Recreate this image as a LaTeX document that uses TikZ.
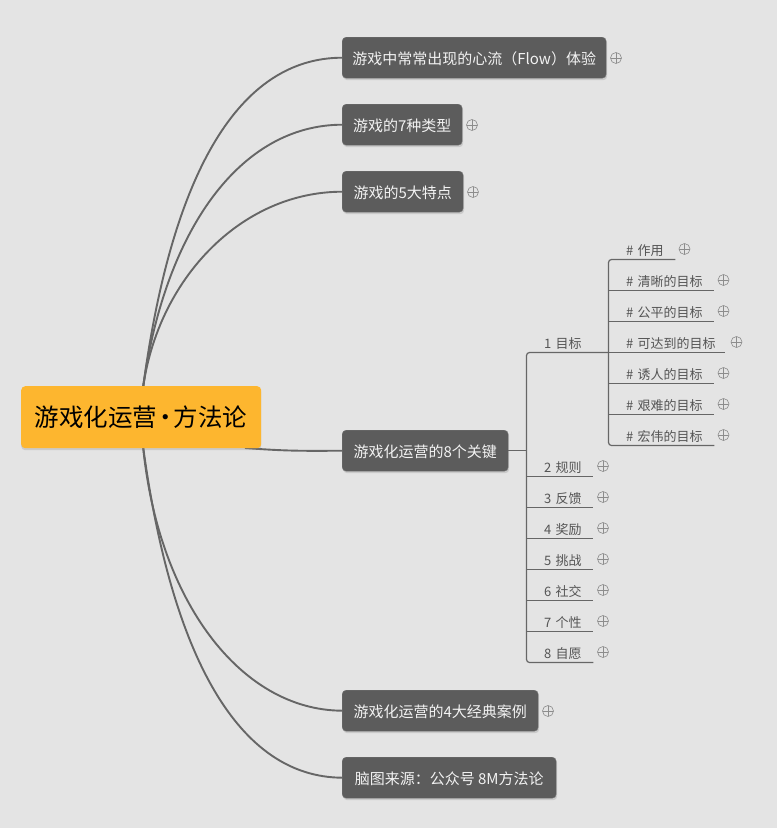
\documentclass[tikz,border=0pt]{standalone}
\usepackage{fontspec}
\setmainfont{Noto Sans CJK SC}
\usepackage{tikz}
\usetikzlibrary{shadows}

\definecolor{pagegrey}{HTML}{E4E4E4}
\definecolor{topicgrey}{HTML}{5C5C5C}
\definecolor{rootorange}{HTML}{FDB62F}
\definecolor{linegrey}{HTML}{666666}
\definecolor{labelgrey}{HTML}{555555}

\tikzset{
    rootbox/.style={draw=none, fill=rootorange, rounded corners=4, anchor=north west,
        minimum width=240pt, minimum height=62pt, inner sep=0pt, text=black,
        font=\fontsize{24.5}{30}\selectfont,
        drop shadow={shadow xshift=0pt, shadow yshift=-2pt, opacity=0.25}},
    topicbox/.style={draw=black!55, fill=topicgrey, rounded corners=4, anchor=north west,
        minimum width=#1, minimum height=41pt, inner sep=0pt, text=white!95!black,
        text height=14pt, text depth=1pt,
        font=\fontsize{15}{18}\selectfont,
        drop shadow={shadow xshift=1pt, shadow yshift=-2pt, opacity=0.25}},
    branchlabel/.style={anchor=south west, inner xsep=0pt, inner ysep=2.5pt, text width=#1,
        align=left, text=labelgrey, font=\fontsize{13}{16}\selectfont,
        execute at begin node=\hspace*{17.5pt}},
    curveline/.style={draw=linegrey, line width=1.9pt},
    branchline/.style={draw=linegrey, line width=1.2pt},
    plusmark/.style={circle, draw=black!45, line width=0.6pt, minimum size=11pt, inner sep=0pt,
        path picture={
            \draw[black!45, line width=0.6pt]
                (path picture bounding box.north) -- (path picture bounding box.south)
                (path picture bounding box.west) -- (path picture bounding box.east);
        }},
}

\begin{document}
\begin{tikzpicture}[x=1pt, y=-1pt]

        \fill[pagegrey] (0,0) rectangle (777,828);
        \useasboundingbox (0,0) rectangle (777,828);

        % main topics
        \node[topicbox=264pt] (flow) at (342,37) {游戏中常常出现的心流（Flow）体验};
        \node[topicbox=120pt] (types) at (342,104) {游戏的7种类型};
        \node[topicbox=121pt] (traits) at (342,171) {游戏的5大特点};
        \node[topicbox=166pt] (keys) at (342,430) {游戏化运营的8个关键};
        \node[topicbox=196pt] (cases) at (342,690) {游戏化运营的4大经典案例};
        \node[topicbox=214pt] (source) at (342,757) {脑图来源：公众号 8M方法论};

        % curves first, root goes on top of them
        \coordinate (roottop) at (143,388);
        \coordinate (rootbottom) at (143,446);
        \coordinate (rootside) at (245,448);

        \draw[curveline] (roottop) .. controls (172,170) and (240,58) .. (flow.west);
        \draw[curveline] (roottop) .. controls (165,230) and (240,125) .. (types.west);
        \draw[curveline] (roottop) .. controls (158,280) and (240,192) .. (traits.west);
        \draw[curveline] (rootside) .. controls (285,451) and (300,451) .. (keys.west);
        \draw[curveline] (rootbottom) .. controls (158,600) and (240,710) .. (cases.west);
        \draw[curveline] (rootbottom) .. controls (172,660) and (240,777) .. (source.west);

        \node[rootbox] (root) at (21,386) {游戏化运营\kern-4pt·\kern-4pt方法论};

        % second level
        \node[branchlabel=82pt] (goal) at (526.5,352.5) {1 目标};
        \foreach \name/\txt/\y in {rules/2 规则/476.5, feedback/3 反馈/507.5, rewards/4 奖励/538.5,
            challenge/5 挑战/569.5, social/6 社交/600.5, persona/7 个性/631.5, wish/8 自愿/662.5}
            \node[branchlabel=66.5pt] (\name) at (526.5,\y) {\txt};

        \draw[branchline] (keys.east) -- (keys.east -| goal.south west);
        \draw[branchline, rounded corners=3] (goal.south east) -- (goal.south west)
            -- (wish.south west) -- (wish.south east);
        \foreach \name in {rules,feedback,rewards,challenge,social,persona}
            \draw[branchline] (\name.south west) -- (\name.south east);

        % third level
        \foreach \name/\txt/\y/\w in {use/\# 作用/259.5/66.5pt, clear/\# 清晰的目标/290.5/105.5pt,
            fair/\# 公平的目标/321.5/105.5pt, reach/\# 可达到的目标/352.5/116.5pt,
            tempt/\# 诱人的目标/383.5/105.5pt, hard/\# 艰难的目标/414.5/105.5pt, grand/\# 宏伟的目标/445.5/105.5pt}
            \node[branchlabel=\w] (\name) at (608.5,\y) {\txt};

        \draw[branchline, rounded corners=3] (use.south east) -- (use.south west)
            -- (grand.south west) -- (grand.south east);
        \foreach \name in {clear,fair,reach,tempt,hard}
            \draw[branchline] (\name.south west) -- (\name.south east);

        % collapsed markers
        \foreach \x/\y [count=\i] in {616/58, 472/125, 473/192, 548/711, 684.5/249, 723.5/280, 723.5/311,
            736.5/342, 723.5/373, 723.5/404, 723.5/435, 603/466, 603/497, 603/528, 603/559, 603/590,
            603/621, 603/652}
            \node[plusmark] (plus\i) at (\x,\y) {};

\end{tikzpicture}
\end{document}
